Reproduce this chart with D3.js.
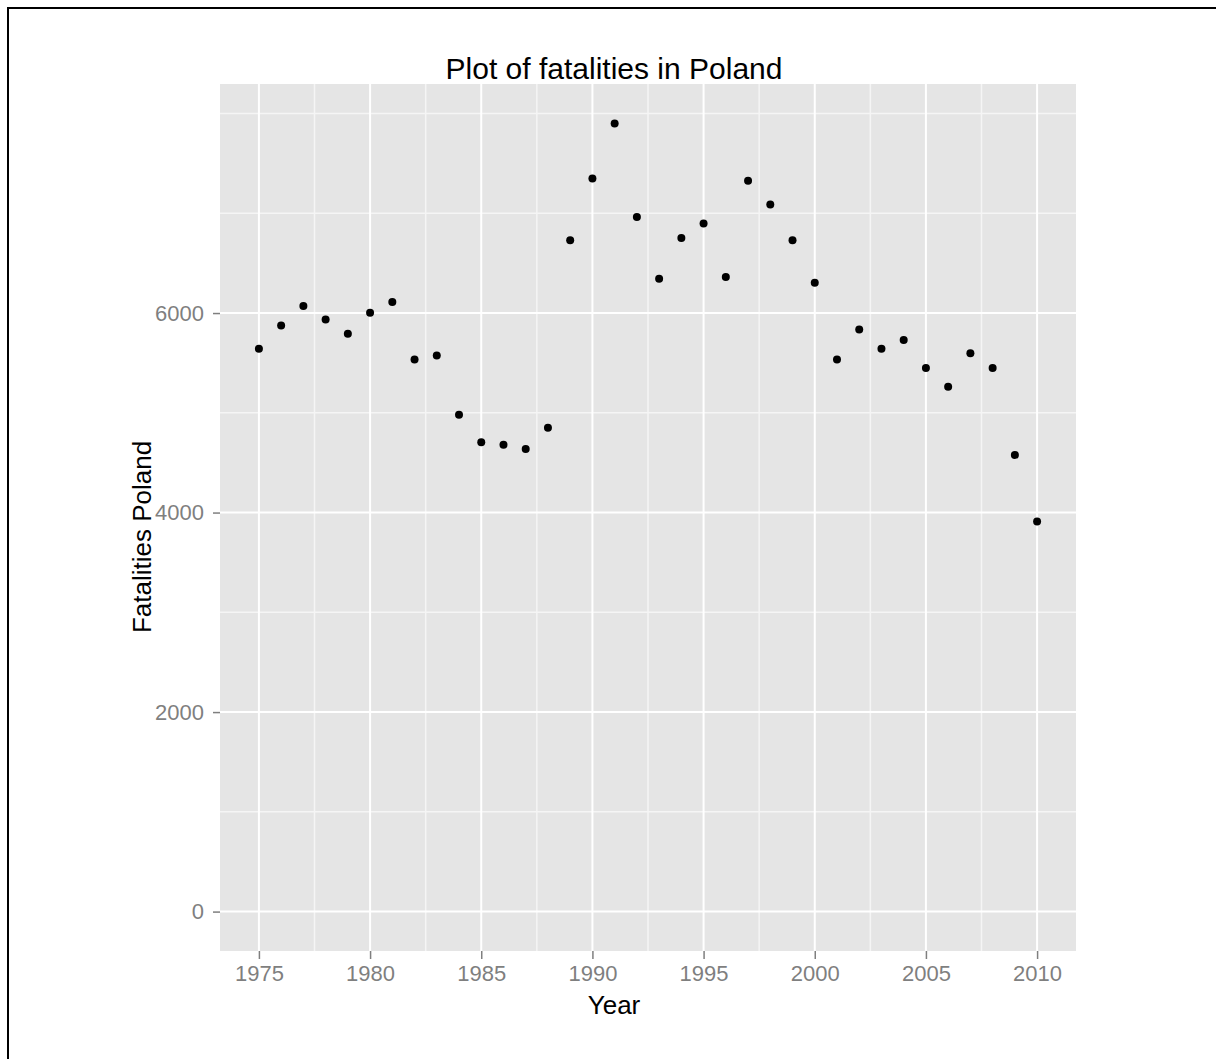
<!DOCTYPE html>
<html>
<head>
<meta charset="utf-8">
<script src="https://cdn.jsdelivr.net/npm/d3@7/dist/d3.min.js"></script>
<style>
  html, body { margin: 0; padding: 0; background: #ffffff; }
  svg { display: block; }
  text { font-family: "Liberation Sans", Arial, sans-serif; }
</style>
</head>
<body>
<svg id="chart" width="1216" height="1059"></svg>
<script>
// ---- data ----
const years = [1975,1976,1977,1978,1979,1980,1981,1982,1983,1984,1985,1986,1987,1988,1989,1990,1991,1992,1993,1994,1995,1996,1997,1998,1999,2000,2001,2002,2003,2004,2005,2006,2007,2008,2009,2010];
const fatalities = [5641,5875,6070,5936,5792,6003,6110,5534,5574,4980,4704,4680,4637,4851,6729,7349,7901,6964,6344,6753,6897,6361,7325,7088,6729,6304,5534,5835,5641,5729,5450,5260,5598,5450,4577,3911];
const xTicks = [1975,1980,1985,1990,1995,2000,2005,2010];
const xMinor = [1977.5,1982.5,1987.5,1992.5,1997.5,2002.5,2007.5];
const yTicks = [0,2000,4000,6000];
const yMinor = [1000,3000,5000,7000,8000];
const titleText = "Plot of fatalities in Poland";
const xTitle = "Year";
const yTitle = "Fatalities Poland";

// ---- layout ----
const svg = d3.select("#chart");
const panel = {left: 220, right: 1076, top: 84, bottom: 951};

// frame (top and left edges visible)
svg.append("line").attr("x1", 7).attr("x2", 1216).attr("y1", 8).attr("y2", 8)
  .attr("stroke", "#000").attr("stroke-width", 2);
svg.append("line").attr("x1", 8).attr("x2", 8).attr("y1", 7).attr("y2", 1059)
  .attr("stroke", "#000").attr("stroke-width", 2);

const xr = d3.extent(years);
const xPad = (xr[1] - xr[0]) * 0.05;
const x = d3.scaleLinear().domain([xr[0] - xPad, xr[1] + xPad]).range([panel.left, panel.right]);
const yMax = d3.max(fatalities);
const yPad = yMax * 0.05;
const y = d3.scaleLinear().domain([0 - yPad, yMax + yPad]).range([panel.bottom, panel.top]);

// panel background
svg.append("rect").attr("x", panel.left).attr("y", panel.top)
  .attr("width", panel.right - panel.left).attr("height", panel.bottom - panel.top)
  .attr("fill", "#E5E5E5");

const grid = svg.append("g");
// minor grid
grid.selectAll(".ymin").data(yMinor).join("line")
  .attr("x1", panel.left).attr("x2", panel.right)
  .attr("y1", d => y(d)).attr("y2", d => y(d))
  .attr("stroke", "#F5F5F5").attr("stroke-width", 1.5);
grid.selectAll(".xmin").data(xMinor).join("line")
  .attr("y1", panel.top).attr("y2", panel.bottom)
  .attr("x1", d => x(d)).attr("x2", d => x(d))
  .attr("stroke", "#F5F5F5").attr("stroke-width", 1.5);
// major grid
grid.selectAll(".ymaj").data(yTicks).join("line")
  .attr("x1", panel.left).attr("x2", panel.right)
  .attr("y1", d => y(d)).attr("y2", d => y(d))
  .attr("stroke", "#FFFFFF").attr("stroke-width", 2);
grid.selectAll(".xmaj").data(xTicks).join("line")
  .attr("y1", panel.top).attr("y2", panel.bottom)
  .attr("x1", d => x(d)).attr("x2", d => x(d))
  .attr("stroke", "#FFFFFF").attr("stroke-width", 2);

// axes
const xAxis = d3.axisBottom(x).tickValues(xTicks).tickFormat(d3.format("d")).tickSize(8).tickPadding(6);
const gx = svg.append("g").attr("transform", `translate(0,${panel.bottom})`).call(xAxis);
gx.select(".domain").remove();
gx.selectAll(".tick line").attr("stroke", "#7F7F7F").attr("stroke-width", 1.5);
gx.selectAll(".tick text").attr("fill", "#7F7F7F").attr("font-size", 22)
  .attr("font-family", "Liberation Sans, Arial, sans-serif");

const yAxis = d3.axisLeft(y).tickValues(yTicks).tickFormat(d3.format("d")).tickSize(7).tickPadding(9);
const gy = svg.append("g").attr("transform", `translate(${panel.left},0)`).call(yAxis);
gy.select(".domain").remove();
gy.selectAll(".tick line").attr("stroke", "#7F7F7F").attr("stroke-width", 1.5);
gy.selectAll(".tick text").attr("fill", "#7F7F7F").attr("font-size", 22)
  .attr("font-family", "Liberation Sans, Arial, sans-serif");

// points
svg.append("g").selectAll("circle").data(years).join("circle")
  .attr("cx", d => x(d))
  .attr("cy", (d, i) => y(fatalities[i]))
  .attr("r", 4)
  .attr("fill", "#000");

// titles
svg.append("text").attr("x", 614).attr("y", 79).attr("text-anchor", "middle")
  .attr("font-size", 30).attr("fill", "#000").text(titleText);
svg.append("text").attr("x", 614).attr("y", 1014).attr("text-anchor", "middle")
  .attr("font-size", 26).attr("fill", "#000").text(xTitle);
svg.append("text").attr("transform", "translate(151,537) rotate(-90)").attr("text-anchor", "middle")
  .attr("font-size", 26).attr("fill", "#000").text(yTitle);
</script>
</body>
</html>
